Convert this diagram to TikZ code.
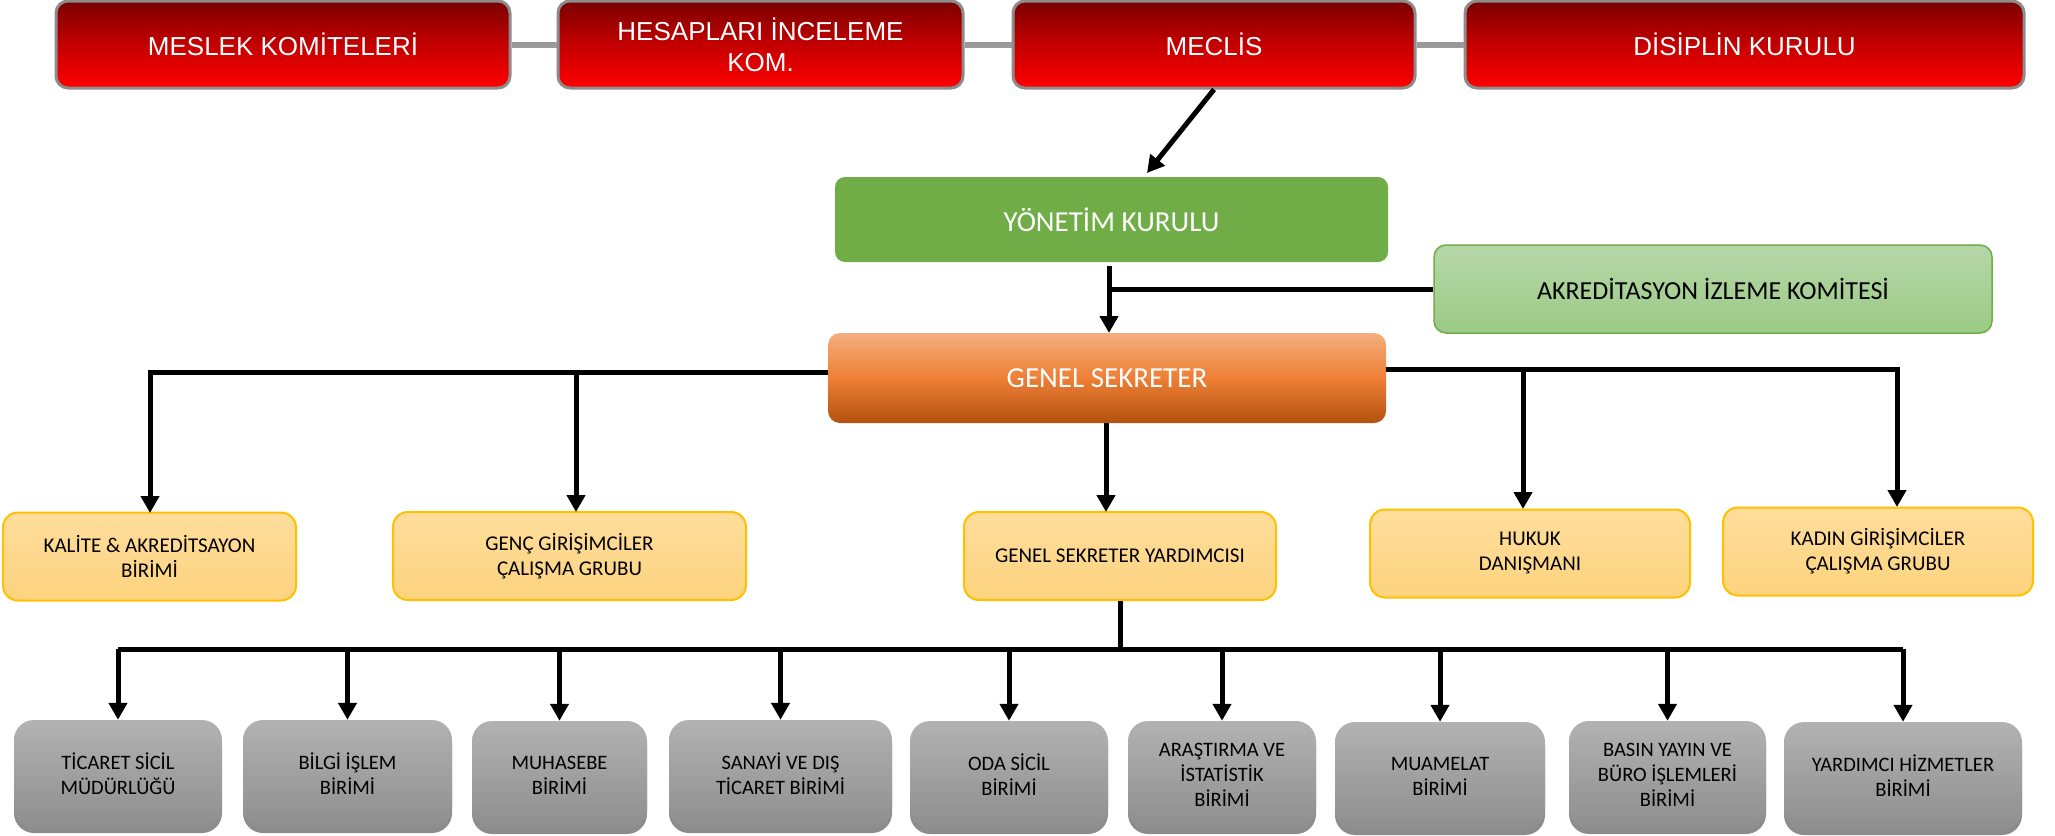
\documentclass[tikz,border=0pt]{standalone}
\usepackage{fontspec}
\setmainfont{Carlito}
\newfontfamily\arialf{Liberation Sans}
\usetikzlibrary{arrows.meta,shadows}
\definecolor{redborder}{HTML}{8C8C8C}
\definecolor{redtop}{HTML}{7A0000}
\definecolor{redmid}{HTML}{C40000}
\definecolor{redbot}{HTML}{FF0000}
\definecolor{ykgreen}{HTML}{70AD47}
\definecolor{aiktop}{HTML}{B6D7A8}
\definecolor{aikbot}{HTML}{9CCA86}
\definecolor{gstop}{HTML}{F4AF7E}
\definecolor{gsmid}{HTML}{EE7F35}
\definecolor{gsbot}{HTML}{B3510F}
\definecolor{yeltop}{HTML}{FEDD9C}
\definecolor{yelbot}{HTML}{FDD37E}
\definecolor{yelborder}{HTML}{FFC000}
\definecolor{graytop}{HTML}{B2B2B2}
\definecolor{graybot}{HTML}{8E8E8E}
\definecolor{linkgray}{HTML}{999999}
\tikzset{
  redbox/.style={draw=redborder, line width=3pt, rounded corners=12pt,
    top color=redtop, bottom color=redbot, middle color=redmid,
    text=white, align=center, inner sep=0pt, minimum height=87pt,
    font=\arialf\fontsize{26}{31}\selectfont},
  ykbox/.style={fill=ykgreen, rounded corners=10pt, text=white, align=center,
    inner sep=0pt, font=\fontsize{29}{34}\selectfont},
  aikbox/.style={draw=ykgreen, line width=1.5pt, rounded corners=12pt,
    top color=aiktop, bottom color=aikbot, text=black, align=center,
    inner sep=0pt, font=\fontsize{26}{31}\selectfont},
  gsbox/.style={rounded corners=12pt, top color=gstop, bottom color=gsbot,
    middle color=gsmid, text=white, align=center, inner sep=0pt,
    font=\fontsize{29}{34}\selectfont},
  yelbox/.style={draw=yelborder, line width=2pt, rounded corners=15pt,
    top color=yeltop, bottom color=yelbot, text=black, align=center,
    inner sep=0pt, minimum height=88pt, font=\fontsize{21}{25}\selectfont},
  graybox/.style={rounded corners=20pt, top color=graytop, bottom color=graybot,
    text=black, align=center, inner sep=0pt, minimum height=108pt,
    drop shadow={shadow xshift=0pt, shadow yshift=-5pt, opacity=0.45, fill=black},
    font=\fontsize{20.5}{25}\selectfont},
  toplink/.style={draw=linkgray, line width=6pt},
  conn/.style={draw=black, line width=5pt, line join=miter},
  arr/.style={conn, -{Triangle[width=18pt,length=17pt]}},
}
\begin{document}
\begin{tikzpicture}[x=1pt,y=-1pt]
\useasboundingbox (0,0) rectangle (2055,835);
% top row
\node[redbox, minimum width=454pt] (mk) at (283,44.5) {MESLEK KOMİTELERİ};
\node[redbox, minimum width=405pt] (hik) at (760.5,44.5) {HESAPLARI İNCELEME\\KOM.};
\node[redbox, minimum width=402pt] (meclis) at (1214,44.5) {MECLİS};
\node[redbox, minimum width=559pt] (dk) at (1744.5,44.5) {DİSİPLİN KURULU};
\draw[toplink] (mk.east) -- (hik.west);
\draw[toplink] (hik.east) -- (meclis.west);
\draw[toplink] (meclis.east) -- (dk.west);
% level 1
\node[ykbox, minimum width=553pt, minimum height=85pt] (yk) at (1111.5,219.5) {YÖNETİM KURULU};
\node[aikbox, minimum width=558pt, minimum height=88pt] (aik) at (1713,289) {AKREDİTASYON İZLEME KOMİTESİ};
\node[gsbox, minimum width=558pt, minimum height=90pt] (gs) at (1107,378) {GENEL SEKRETER};
\coordinate (ykin) at (1147,173);
\draw[arr] (meclis.south) -- (ykin);
\coordinate (ykout) at (1109,266);
\coordinate (gsin) at (1109,333);
\draw[arr] (ykout) -- (gsin);
\draw[conn] (aik.west) -- (aik.west -| ykout);
% level 2
\node[yelbox, minimum width=293pt] (kal) at (149.5,556.5) {KALİTE \& AKREDİTSAYON\\BİRİMİ};
\node[yelbox, minimum width=353pt] (genc) at (569.5,556) {GENÇ GİRİŞİMCİLER\\ÇALIŞMA GRUBU};
\node[yelbox, minimum width=312pt] (gsy) at (1120,556) {GENEL SEKRETER YARDIMCISI};
\node[yelbox, minimum width=320pt] (huk) at (1530,553.5) {HUKUK\\DANIŞMANI};
\node[yelbox, minimum width=310pt] (kad) at (1878,551.5) {KADIN GİRİŞİMCİLER\\ÇALIŞMA GRUBU};
\coordinate (gsL) at (828,372);
\coordinate (gsR) at (1386,369);
\coordinate (kalin) at (150,513);
\coordinate (gencin) at (576,512);
\coordinate (gsyin) at (1106,512);
\coordinate (hukin) at (1523,509);
\coordinate (kadin) at (1897,507);
\draw[arr] (gsL) -| (kalin);
\draw[arr] (gsL -| gencin) -- (gencin);
\draw[arr] (gsR) -| (kadin);
\draw[arr] (gsR -| hukin) -- (hukin);
\draw[arr] (gs.south -| gsyin) -- (gsyin);
% level 3
\node[graybox, minimum width=208pt] (tsm) at (118,774) {TİCARET SİCİL\\MÜDÜRLÜĞÜ};
\node[graybox, minimum width=209pt] (bil) at (347.5,774) {BİLGİ İŞLEM\\BİRİMİ};
\node[graybox, minimum width=175pt] (muh) at (559.5,775) {MUHASEBE\\BİRİMİ};
\node[graybox, minimum width=223pt] (san) at (780.5,774) {SANAYİ VE DIŞ\\TİCARET BİRİMİ};
\node[graybox, minimum width=198pt] (oda) at (1009,775) {ODA SİCİL\\BİRİMİ};
\node[graybox, minimum width=188pt] (ara) at (1222,775) {ARAŞTIRMA VE\\İSTATİSTİK\\BİRİMİ};
\node[graybox, minimum width=210pt] (mua) at (1440,776) {MUAMELAT\\BİRİMİ};
\node[graybox, minimum width=197pt] (bas) at (1667.5,775) {BASIN YAYIN VE\\BÜRO İŞLEMLERİ\\BİRİMİ};
\node[graybox, minimum width=238pt] (yar) at (1903,776) {YARDIMCI HİZMETLER\\BİRİMİ};
\coordinate (bus) at (0,649);
\draw[conn] (gsy.south) -- (gsy.south |- bus);
\draw[conn] (tsm.north |- bus) -- (yar.north |- bus);
\foreach \n in {tsm,bil,muh,san,oda,ara,mua,bas,yar}
  \draw[arr] (\n.north |- bus) -- (\n.north);
\end{tikzpicture}
\end{document}
